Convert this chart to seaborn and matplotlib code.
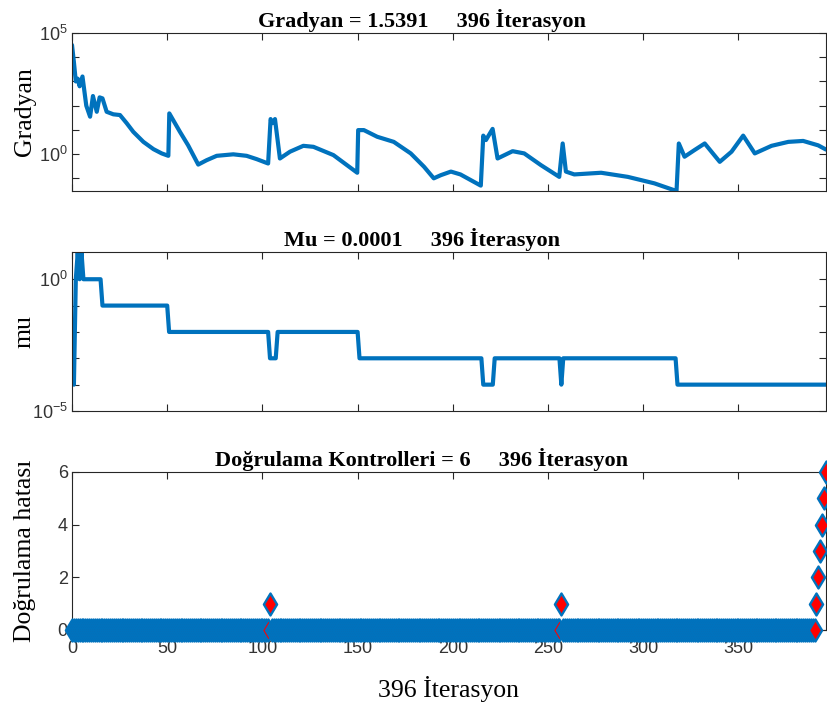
import numpy as np
import pandas as pd
import matplotlib
matplotlib.use("Agg")
import matplotlib.pyplot as plt
import seaborn as sns
from matplotlib.ticker import FixedLocator, LogFormatterSciNotation, NullFormatter

# ---------------- data ----------------
grad_iter = [0, 1, 2, 3, 4, 5.5, 6.5, 7.5, 9.5, 11, 13, 14.5, 16,
             18.2, 21.7, 25.2, 28.7, 32.2, 37.5, 42.8, 47.1, 50.6, 51.1, 56.7,
             61, 66.3, 70.7, 76, 84.7, 91.7, 97, 103, 104.3, 105.4, 106.6,
             109.2, 114.5, 121.5, 126.8, 137.3, 149.8, 150.3, 153.3, 160.3,
             169, 177.9, 184.9, 190, 193.7, 199, 204, 214.7, 216, 217.4, 220.9,
             223.5, 231.4, 237.5, 246.3, 255.9, 257.7, 259.4, 263.8, 277.9,
             291.9, 305.9, 317.5, 318.7, 321.7, 327, 332.3, 340.2, 346.4,
             352.5, 358.6, 367.4, 376.2, 384, 391.9, 396]
grad_val = [3.2e4, 6.3e3, 1.0e3, 1.3e3, 6.3e2, 1.6e3, 4.0e2, 1.0e2, 35, 250,
            56, 220, 200,
            56, 44, 41, 19, 8.3, 3.2, 1.6, 1.07, 0.85, 48, 8.3,
            2.3, 0.37, 0.56, 0.85, 0.98, 0.85, 0.62, 0.41, 28, 19, 28,
            0.66, 1.26, 2.2, 2.0, 0.91, 0.17, 9.8, 9.8, 5.2,
            3.2, 1.07, 0.30, 0.10, 0.135, 0.19, 0.145, 0.05, 5.8, 3.8, 11,
            0.66, 1.32, 1.07, 0.35, 0.115, 2.75, 0.19, 0.145, 0.17,
            0.115, 0.062, 0.030, 2.75, 0.78, 1.48, 2.75, 0.48, 1.26,
            5.8, 1.07, 2.2, 3.2, 3.5, 2.3, 1.54]

mu_iter = [0, 1, 2, 3, 4, 5, 6, 15, 16, 50, 51, 103, 104, 107, 108, 150, 151,
           215, 216, 221, 222, 256, 257, 258, 317, 318, 396]
mu_val = [1e-3, 1e-4, 1, 10, 1, 10, 1, 1, 0.1, 0.1, 0.01, 0.01, 1e-3, 1e-3,
          0.01, 0.01, 1e-3, 1e-3, 1e-4, 1e-4, 1e-3, 1e-3, 1e-4, 1e-3, 1e-3,
          1e-4, 1e-4]

n_iter = 396
val_spike_iter = [104, 257]
val_spike_val = [1, 1]
val_final_iter = [390, 391, 392, 393, 394, 395, 396]
val_final_val = [0, 1, 2, 3, 4, 5, 6]

x_ticks = [0, 50, 100, 150, 200, 250, 300, 350]
val_yticks = [0, 2, 4, 6]

titles = ["Gradyan = 1.5391     396 İterasyon",
          "Mu = 0.0001     396 İterasyon",
          "Doğrulama Kontrolleri = 6     396 İterasyon"]
ylabels = ["Gradyan", "mu", "Doğrulama hatası"]
xlabel = "396 İterasyon"

# validation series: zero everywhere except the read events
val_iter = list(range(0, val_final_iter[0]))
val_fail = [0] * len(val_iter)
for it, v in zip(val_spike_iter, val_spike_val):
    val_fail[it] = v
val_iter += val_final_iter
val_fail += val_final_val

# ---------------- style ----------------
sns.set_theme(style="white")
plt.rcParams["font.family"] = ["Liberation Sans", "DejaVu Sans"]
plt.rcParams["mathtext.default"] = "regular"

BLUE = "#0072BD"
DARK = "#262626"
SERIF = ["Liberation Serif", "DejaVu Serif"]

fig = plt.figure(figsize=(8.28, 7.09), dpi=100)
W, H = 828, 709
left, right = 72, 826

def make_ax(top, bottom):
    return fig.add_axes([left / W, 1 - bottom / H, (right - left) / W, (bottom - top) / H])

ax1 = make_ax(33, 191)
ax2 = make_ax(252, 411)
ax3 = make_ax(472, 630)

df_g = pd.DataFrame({"it": grad_iter, "g": grad_val})
sns.lineplot(data=df_g, x="it", y="g", ax=ax1, color=BLUE, linewidth=3,
             estimator=None, sort=False, solid_joinstyle="round",
             solid_capstyle="round")
ax1.set_yscale("log")
ax1.set_ylim(0.03, 1e5)
ax1.yaxis.set_major_locator(FixedLocator([1, 1e5]))
ax1.yaxis.set_major_formatter(LogFormatterSciNotation())
ax1.yaxis.set_minor_locator(FixedLocator([1e-1, 1e1, 1e2, 1e3, 1e4]))
ax1.yaxis.set_minor_formatter(NullFormatter())

df_m = pd.DataFrame({"it": mu_iter, "mu": mu_val})
sns.lineplot(data=df_m, x="it", y="mu", ax=ax2, color=BLUE, linewidth=3,
             estimator=None, sort=False, solid_joinstyle="round",
             solid_capstyle="butt")
ax2.set_yscale("log")
ax2.set_ylim(1e-5, 10.8)
ax2.yaxis.set_major_locator(FixedLocator([1e-5, 1]))
ax2.yaxis.set_major_formatter(LogFormatterSciNotation())
ax2.yaxis.set_minor_locator(FixedLocator([1e-4, 1e-3, 1e-2, 1e-1]))
ax2.yaxis.set_minor_formatter(NullFormatter())

df_v = pd.DataFrame({"it": val_iter, "v": val_fail})
sns.scatterplot(data=df_v, x="it", y="v", ax=ax3, marker="d", s=125,
                color="red", edgecolor=BLUE, linewidth=1.7, clip_on=False,
                zorder=5, legend=False)
ax3.set_ylim(0, 6)
ax3.set_yticks(val_yticks)

for i, ax in enumerate([ax1, ax2, ax3]):
    ax.set_xlim(0, n_iter)
    ax.set_xticks(x_ticks)
    ax.tick_params(which="both", direction="in", top=True, right=True,
                   bottom=True, left=True, length=5, width=0.8,
                   colors=DARK, labelsize=13, pad=3)
    ax.tick_params(labelcolor="#333333")
    for s in ax.spines.values():
        s.set_color(DARK)
        s.set_linewidth(0.8)
    ax.set_title(titles[i], fontfamily=SERIF, fontweight="bold", fontsize=16,
                 color="black", x=0.464, pad=4)
    ax.set_ylabel(ylabels[i], fontfamily=SERIF, fontsize=18.5, color="black")
    ax.yaxis.set_label_coords(-0.048, 0.5)
    if i < 2:
        ax.set_xticklabels([])
        ax.set_xlabel("")

ax3.tick_params(axis="x", pad=7)
ax3.set_xlabel(xlabel, fontfamily=SERIF, fontsize=18.5, color="black", labelpad=14)

fig.savefig("out.png", dpi=100)
